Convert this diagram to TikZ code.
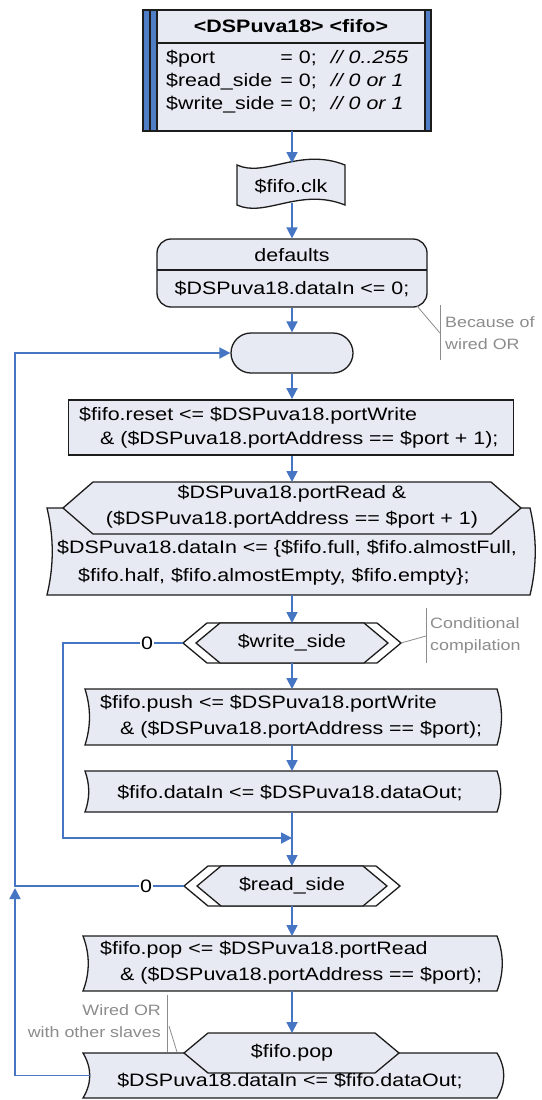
\documentclass[tikz,border=0pt]{standalone}
\usepackage{fontspec}
\setmainfont{Liberation Sans}[FakeStretch=1.19]
\usetikzlibrary{arrows.meta}
\definecolor{fillc}{HTML}{E7EAF2}
\definecolor{flow}{HTML}{4675C4}
\definecolor{barc}{HTML}{4F7EC6}
\definecolor{note}{HTML}{8C8C8C}
\definecolor{edge}{HTML}{1C1C1C}
\begin{document}
\begin{tikzpicture}[x=1pt,y=-1pt,
  shapeline/.style={draw=edge, line width=1.3pt, fill=fillc, line join=miter},
  frame/.style={inner sep=0pt, outer sep=0pt, draw=none},
  flowline/.style={draw=flow, line width=1.8pt},
  flowarrow/.style={flowline, -{Triangle[length=11pt,width=11pt]}},
  txt/.style={inner sep=0pt, font=\fontsize{18}{25}\selectfont},
  notetxt/.style={inner sep=0pt, text=note, font=\fontsize{15}{22}\selectfont},
  noteline/.style={draw=note, line width=0.8pt},
  zero/.style={txt, fill=white, inner sep=1pt}
]
\fill[white] (0,0) rectangle (541,1100);
\useasboundingbox (0,0) rectangle (541,1100);

% ---- declaration block
\node[frame, minimum width=288pt, minimum height=121pt] (decl) at (287,70.5) {};
\fill[fillc] (157,10) rectangle (425,131);
\fill[barc] (143,10) rectangle (157,131);
\fill[barc] (425,10) rectangle (431,131);
\draw[edge, line width=1.3pt] (143,10) rectangle (431,131);
\draw[edge, line width=1.1pt] (150,10) -- (150,131) (157,10) -- (157,131)
  (425,10) -- (425,131) (157,43) -- (425,43);
\node[txt, font=\fontsize{18}{25}\selectfont\bfseries] (declhead) at (291,26) {<DSPuva18> <fifo>};
\node[txt, anchor=north west, font=\fontsize{18}{23}\selectfont] (declbody) at (166,47) {%
  \begin{tabular}{@{}l@{ }l@{\hspace{14pt}}l@{}}
  \$port & = 0; & \itshape // 0..255\\
  \$read\_side & = 0; & \itshape // 0 or 1\\
  \$write\_side & = 0; & \itshape // 0 or 1
  \end{tabular}};

% ---- clock event (tape shape)
\draw[shapeline] (237,165) .. controls (265,178) and (300,147) .. (345,165)
  -- (345,205) .. controls (300,187) and (265,218) .. (237,205) -- cycle;
\node[frame, minimum width=108pt, minimum height=40pt] (clk) at (292,183) {};
\node[txt] (clktxt) at (291,186) {\$fifo.clk};

% ---- defaults block
\node[shapeline, rounded corners=14pt, minimum width=270pt, minimum height=68pt, inner sep=0pt] (dflt) at (292,273) {};
\draw[edge, line width=1.3pt] (157,270) -- (427,270);
\node[txt] (dflthead) at (292,255) {defaults};
\node[txt] (dfltbody) at (292,289) {\$DSPuva18.dataIn <= 0;};

% ---- loop start
\node[shapeline, rounded corners=20pt, minimum width=122pt, minimum height=40pt, inner sep=0pt] (loop) at (292,353) {};

% ---- reset assignment
\node[shapeline, line width=1.8pt, minimum width=445pt, minimum height=55pt, inner sep=0pt] (reset) at (291,427.5) {};
\node[txt, anchor=west, align=left, font=\fontsize{18}{24}\selectfont] (resettxt) at (79,427.5)
  {\$fifo.reset <= \$DSPuva18.portWrite\\\hspace*{21pt}\& (\$DSPuva18.portAddress == \$port + 1);};

% ---- status read (condition + output)
\draw[shapeline] (47,508) .. controls (54,537) and (54,566) .. (47,595)
  -- (530,595) .. controls (537,566) and (537,537) .. (530,508) -- cycle;
\draw[shapeline] (63,508) -- (93,482) -- (491,482) -- (521,508) -- (491,534) -- (93,534) -- cycle;
\node[frame, minimum width=490pt, minimum height=113pt] (status) at (292,538.5) {};
\node[txt, align=center, font=\fontsize{18}{26}\selectfont] (statuscond) at (292,507)
  {\$DSPuva18.portRead \&\\(\$DSPuva18.portAddress == \$port + 1)};
\node[txt, anchor=west, align=left, font=\fontsize{18}{28}\selectfont] (statusout) at (57,563)
  {\$DSPuva18.dataIn <= \{\$fifo.full, \$fifo.almostFull,\\\hspace*{21pt}\$fifo.half, \$fifo.almostEmpty, \$fifo.empty\};};

% ---- write side
\draw[edge, line width=1.3pt, fill=white] (183,643) -- (207,623) -- (377,623) -- (401,643) -- (377,663) -- (207,663) -- cycle;
\draw[shapeline] (196,643) -- (220,623) -- (364,623) -- (388,643) -- (364,663) -- (220,663) -- cycle;
\node[frame, minimum width=218pt, minimum height=40pt] (wside) at (292,643) {};
\node[txt] (wsidetxt) at (292,643) {\$write\_side};

\draw[shapeline] (85,689) .. controls (91,708) and (91,726) .. (85,745)
  -- (497,745) .. controls (503,726) and (503,708) .. (497,689) -- cycle;
\node[frame, minimum width=412pt, minimum height=56pt] (push) at (291,717) {};
\node[txt, anchor=west, align=left, font=\fontsize{18}{26}\selectfont] (pushtxt) at (100,717)
  {\$fifo.push <= \$DSPuva18.portWrite\\\hspace*{20pt}\& (\$DSPuva18.portAddress == \$port);};

\draw[shapeline] (85,771) .. controls (90,785) and (90,798) .. (85,812)
  -- (497,812) .. controls (502,798) and (502,785) .. (497,771) -- cycle;
\node[frame, minimum width=412pt, minimum height=41pt] (din) at (291,791.5) {};
\node[txt] (dintxt) at (290,793) {\$fifo.dataIn <= \$DSPuva18.dataOut;};

\coordinate (join) at (292,838);

% ---- read side
\draw[edge, line width=1.3pt, fill=white] (184,886) -- (208,866) -- (376,866) -- (400,886) -- (376,906) -- (208,906) -- cycle;
\draw[shapeline] (197,886) -- (221,866) -- (363,866) -- (387,886) -- (363,906) -- (221,906) -- cycle;
\node[frame, minimum width=216pt, minimum height=40pt] (rside) at (292,886) {};
\node[txt] (rsidetxt) at (292,886) {\$read\_side};

\draw[shapeline] (83,936) .. controls (90,954) and (90,973) .. (83,991)
  -- (497,991) .. controls (504,973) and (504,954) .. (497,936) -- cycle;
\node[frame, minimum width=414pt, minimum height=55pt] (pop) at (290,963.5) {};
\node[txt, anchor=west, align=left, font=\fontsize{18}{26}\selectfont] (poptxt) at (100,963)
  {\$fifo.pop <= \$DSPuva18.portRead\\\hspace*{20pt}\& (\$DSPuva18.portAddress == \$port);};

\draw[shapeline] (83,1053) .. controls (92,1068) and (92,1083) .. (83,1098)
  -- (497,1098) .. controls (506,1083) and (506,1068) .. (497,1053) -- cycle;
\draw[shapeline] (184,1053) -- (208,1033) -- (375,1033) -- (399,1053) -- (375,1073) -- (208,1073) -- cycle;
\node[frame, minimum width=215pt, minimum height=40pt] (popcond) at (291.5,1053) {};
\node[frame, minimum width=407pt, minimum height=45pt] (popout) at (293.5,1075.5) {};
\node[txt] (popcondtxt) at (292,1053) {\$fifo.pop};
\node[txt] (popouttxt) at (290,1081) {\$DSPuva18.dataIn <= \$fifo.dataOut;};

% ---- flow connectors (main axis follows the centre of each block)
\draw[flowarrow] (decl.south -| clk.north) -- (clk.north);
\draw[flowarrow] (clk.south) -- (dflt.north);
\draw[flowarrow] (dflt.south) -- (loop.north);
\draw[flowarrow] (loop.south) -- (reset.north -| loop.south);
\draw[flowarrow] (reset.south -| loop.south) -- (status.north);
\draw[flowarrow] (status.south) -- (wside.north);
\draw[flowarrow] (wside.south) -- (push.north -| wside.south);
\draw[flowarrow] (push.south -| wside.south) -- (din.north -| wside.south);
\draw[flowline] (din.south -| join) -- (join);
\draw[flowarrow] (wside.west) -- node[zero, pos=0.3] {0} (63,643) |- (join);
\draw[flowarrow] (join) -- (rside.north);
\draw[flowarrow] (rside.south) -- (pop.north -| rside.south);
\draw[flowarrow] (pop.south -| rside.south) -- (popcond.north -| rside.south);
\draw[flowarrow] (rside.west) -- node[zero, pos=0.225] {0} (15,886) |- (loop.west);
\draw[flowarrow] (popout.west) -- (15,1075.5) -- (15,888);

% ---- notes
\draw[noteline] (417,306) -- (440,333);
\draw[noteline] (440,305) -- (440,360);
\node[notetxt, anchor=west, align=left] (note1) at (445,333) {Because of\\wired OR};
\draw[noteline] (wside.east) -- (426,636);
\draw[noteline] (426,608) -- (426,663);
\node[notetxt, anchor=west, align=left] (note2) at (430,635.5) {Conditional\\compilation};
\draw[noteline] (167,995) -- (167,1052);
\draw[noteline] (169,1026) -- (177,1052);
\node[notetxt, anchor=east, align=right] (note3) at (161,1021) {Wired OR\\with other slaves};
\end{tikzpicture}
\end{document}
